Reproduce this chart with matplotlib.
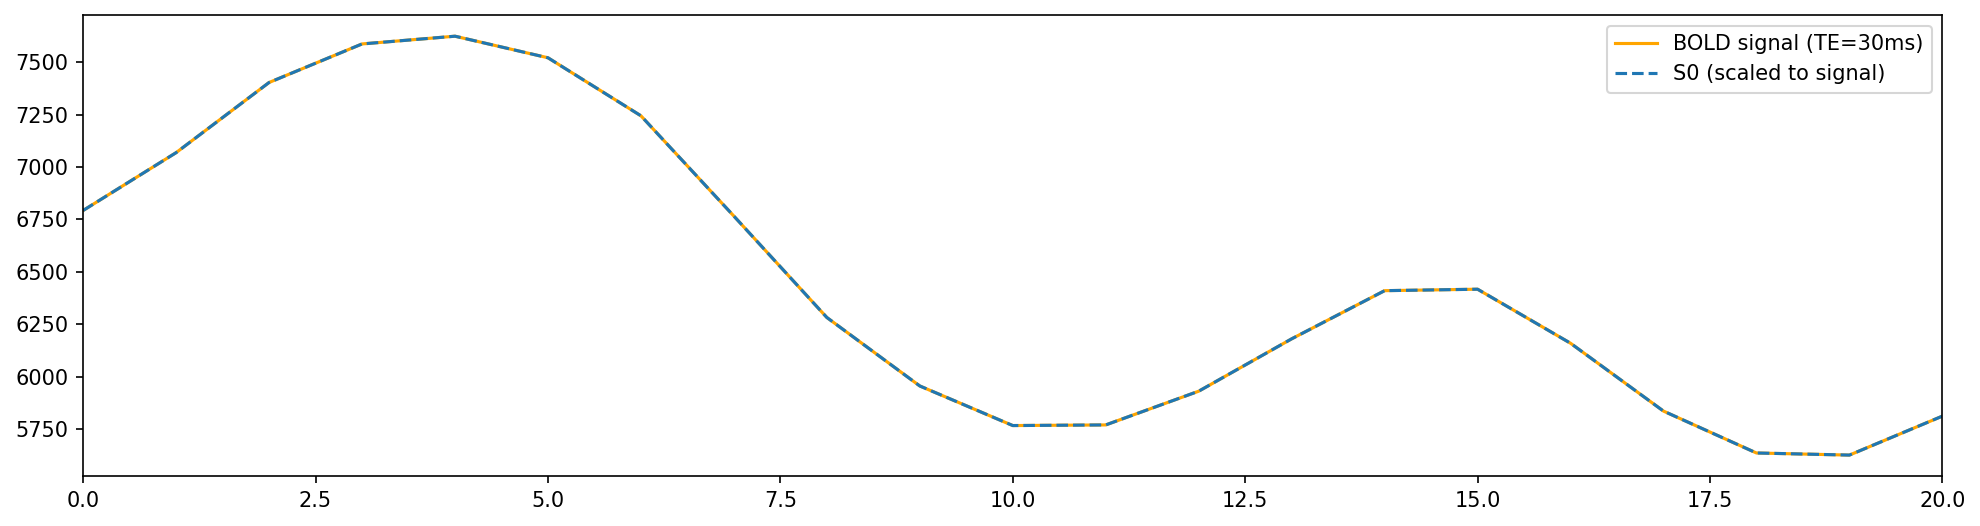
import matplotlib
matplotlib.use('Agg')
import matplotlib.pyplot as plt
import numpy as np

# time points (volumes)
t = np.arange(21)
# BOLD signal at TE=30ms
bold = [6793, 7069, 7404, 7588, 7625, 7522, 7245, 6766, 6282, 5955,
        5766, 5769, 5930, 6180, 6410, 6417, 6159, 5835, 5635, 5625, 5811]
# S0 scaled to signal (overlaps the BOLD curve)
s0_scaled = list(bold)

fig, ax = plt.subplots(figsize=(1980 / 150, 526 / 150), dpi=150)
ax.plot(t, bold, color='orange', label='BOLD signal (TE=30ms)')
ax.plot(t, s0_scaled, color='C0', linestyle='--', label='S0 (scaled to signal)')
ax.set_xlim(0, 20)
ax.legend(loc='upper right')

plt.subplots_adjust(left=0.042, right=0.981, top=0.971, bottom=0.095)
plt.savefig('out.png', dpi=150)
